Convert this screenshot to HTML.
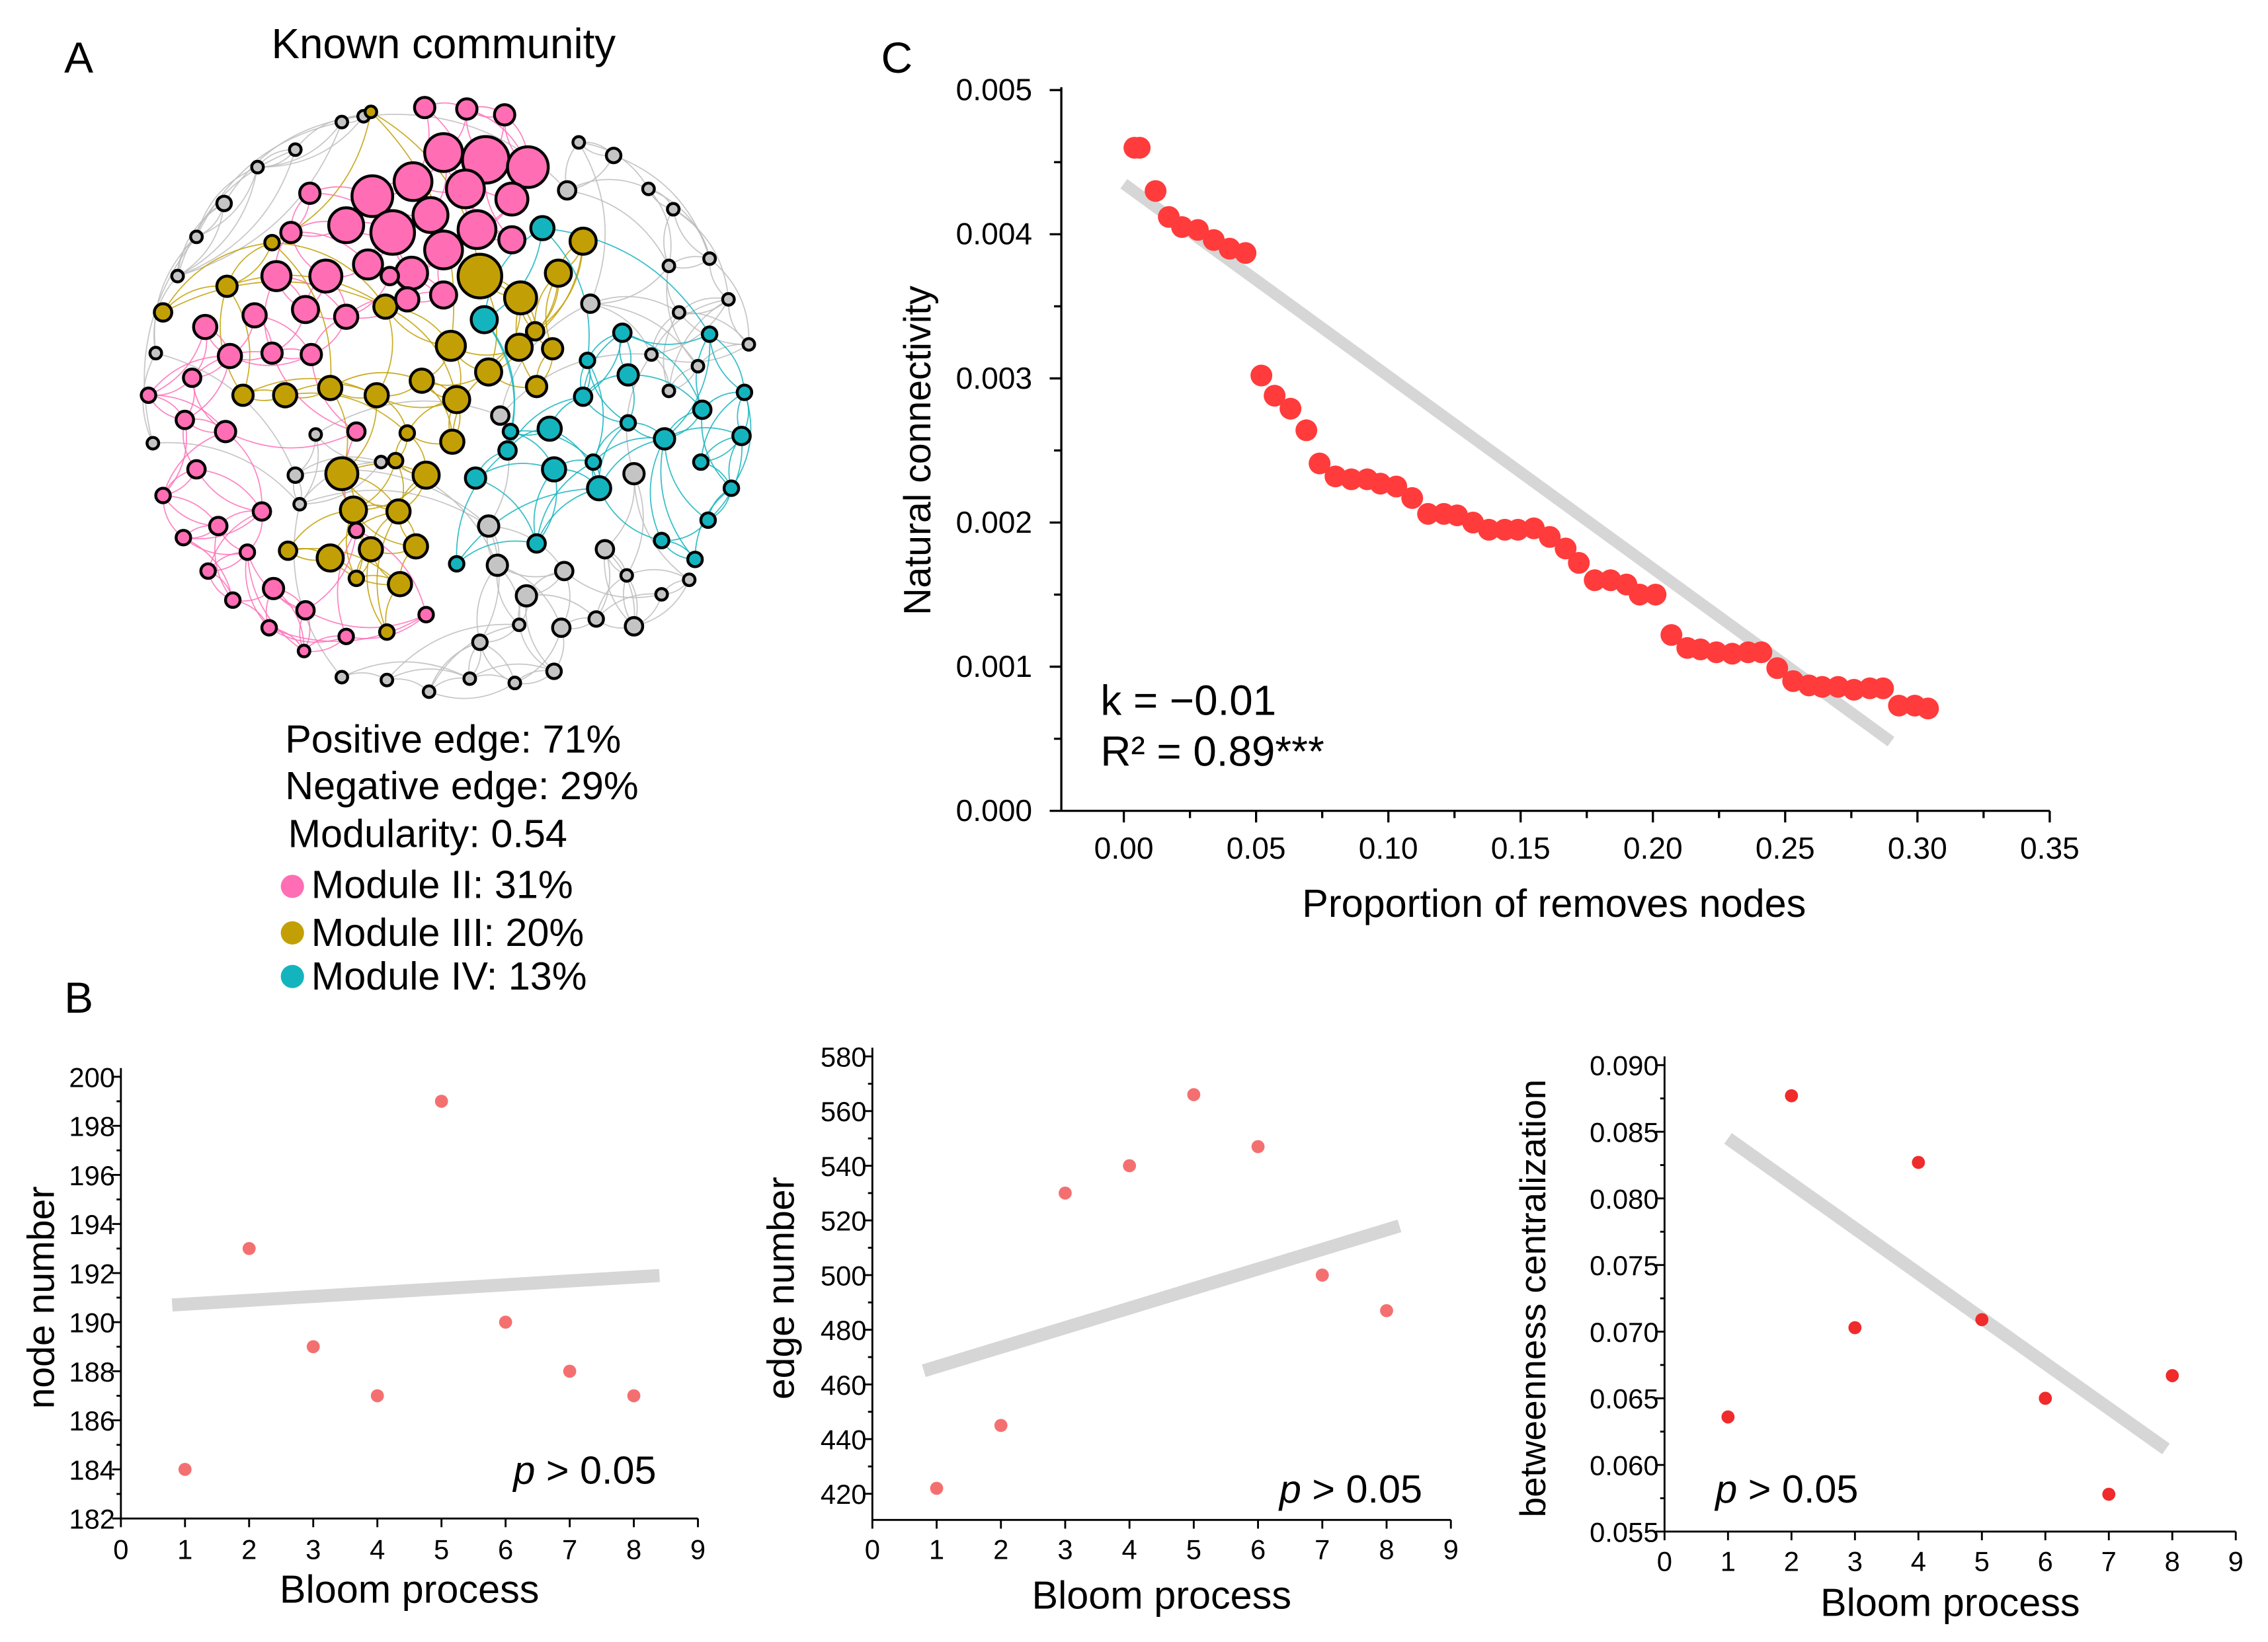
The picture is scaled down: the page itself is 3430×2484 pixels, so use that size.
<!DOCTYPE html>
<html><head><meta charset="utf-8"><style>
html,body{margin:0;padding:0;background:#fff}
svg{display:block;font-family:"Liberation Sans",Arial,sans-serif}
</style></head><body>
<svg id="fig" xmlns="http://www.w3.org/2000/svg" width="3430" height="2484" viewBox="0 0 1560 1130">
<rect width="1560" height="1130" fill="#fff"/>
<g id="net"></g>
<text x="44" y="50" font-size="30">A</text>
<text x="305" y="40" font-size="29" text-anchor="middle">Known community</text>
<text x="196" y="518" font-size="27">Positive edge: 71%</text>
<text x="196" y="550" font-size="27">Negative edge: 29%</text>
<text x="198" y="583" font-size="27">Modularity: 0.54</text>
<g>
<circle cx="201" cy="610" r="8" fill="#ff6eb4"/><text x="214" y="618" font-size="27">Module II: 31%</text>
<circle cx="201" cy="642" r="8" fill="#c2a005"/><text x="214" y="651" font-size="27">Module III: 20%</text>
<circle cx="201" cy="672" r="8" fill="#14b4be"/><text x="214" y="681" font-size="27">Module IV: 13%</text>
</g>
<text x="44" y="697" font-size="30">B</text>
<text x="606" y="50" font-size="30">C</text>
<g id="pc"></g>
<g id="b1"></g>
<g id="b2"></g>
<g id="b3"></g>
</svg>
<script>
const NS="http://www.w3.org/2000/svg";
// Panel C data
const cX=[0.004,0.006,0.012,0.017,0.022,0.028,0.034,0.040,0.046,0.052,0.057,0.063,0.069,0.074,0.080,0.086,0.092,0.097,0.103,0.109,0.115,0.121,0.126,0.132,0.138,0.144,0.149,0.155,0.161,0.167,0.172,0.178,0.184,0.190,0.195,0.201,0.207,0.213,0.218,0.224,0.230,0.236,0.241,0.247,0.253,0.259,0.264,0.270,0.276,0.282,0.287,0.293,0.299,0.304];
const cY=[4.6,4.6,4.3,4.12,4.05,4.03,3.96,3.9,3.87,3.02,2.88,2.79,2.64,2.41,2.32,2.3,2.3,2.27,2.25,2.17,2.06,2.06,2.05,2.0,1.95,1.95,1.95,1.96,1.9,1.82,1.72,1.6,1.6,1.57,1.5,1.5,1.22,1.13,1.12,1.1,1.09,1.1,1.1,0.99,0.9,0.87,0.86,0.86,0.84,0.85,0.85,0.73,0.73,0.71];
const cFit=[[0.0,4.35],[0.29,0.48]];
const cXTicks=["0.00","0.05","0.10","0.15","0.20","0.25","0.30","0.35"];
const cYTicks=["0.000","0.001","0.002","0.003","0.004","0.005"];
// Panel B data
const bloom=[1,2,3,4,5,6,7,8];
const nodeNum=[184,193,189,187,199,190,188,187];
const edgeNum=[422,445,530,540,566,547,500,487];
const betw=[0.0636,0.0877,0.0703,0.0827,0.0709,0.0650,0.0578,0.0667];
const nodeFit=[[0.8,190.7],[8.4,191.9]];
const edgeFit=[[0.8,465],[8.2,518]];
const betwFit=[[1,0.0845],[7.9,0.0612]];
const bXTicks=["0","1","2","3","4","5","6","7","8","9"];
const nodeTicks=["182","184","186","188","190","192","194","196","198","200"];
const edgeTicks=["420","440","460","480","500","520","540","560","580"];
const betwTicks=["0.055","0.060","0.065","0.070","0.075","0.080","0.085","0.090"];

function mk(p,tag,a,txt){const e=document.createElementNS(NS,tag);for(const k in a)e.setAttribute(k,a[k]);if(txt!==undefined)e.textContent=txt;p.appendChild(e);return e;}

// Panel C
(function(){
 const g=document.getElementById('pc');
 const X=v=>773+v*1820, Y=v=>558-v*99.2;
 let e=mk(g,'line',{x1:730,y1:558,x2:1410,y2:558,stroke:'#000','stroke-width':1.5});
 
 
 e=mk(g,'line',{x1:730,y1:558,x2:730,y2:60,stroke:'#000','stroke-width':1.5});
 
 
 cXTicks.forEach((t,i)=>{const v=+t;mk(g,'line',{x1:X(v),y1:558,x2:X(v),y2:566,stroke:'#000','stroke-width':1.5});
  if(i<7)mk(g,'line',{x1:X(v+0.025),y1:558,x2:X(v+0.025),y2:563,stroke:'#000','stroke-width':1.5});
  e=mk(g,'text',{x:X(v),y:591,'font-size':21,'text-anchor':'middle'},t);
  
  });
 cYTicks.forEach((t,i)=>{const v=+t*1000;mk(g,'line',{x1:722,y1:Y(v),x2:730,y2:Y(v),stroke:'#000','stroke-width':1.5});
  if(i<5)mk(g,'line',{x1:725,y1:Y(v+0.5),x2:730,y2:Y(v+0.5),stroke:'#000','stroke-width':1.5});
  e=mk(g,'text',{x:710,y:Y(v)+7,'font-size':21,'text-anchor':'end'},t);
  
  });
 e=mk(g,'line',{x1:X(cFit[0][0]),y1:Y(cFit[0][1]),x2:X(cFit[1][0]),y2:Y(cFit[1][1]),stroke:'#d6d6d6','stroke-width':8});
 
 
 cX.forEach((x,i)=>{e=mk(g,'circle',{cx:X(x),cy:Y(cY[i]),r:7.5,fill:'#ff3b3b'});
  
  });
 e=mk(g,'text',{x:640,y:310,'font-size':26,'text-anchor':'middle',transform:'rotate(-90 640 310)'},'Natural connectivity');
 
 
 e=mk(g,'text',{x:1069,y:631,'font-size':27,'text-anchor':'middle'},'Proportion of removes nodes');
 
 
 e=mk(g,'text',{x:757,y:492,'font-size':29},'k = \u22120.01');
 
 
 e=mk(g,'text',{x:757,y:527,'font-size':29},'R\u00b2 = 0.89***');
 
 
})();

// Panel B
function bChart(id,x0,x1,ybot,ytop,ax,ticks,vals,fit,ytitle,ytx,xlabY,titleY,color,pX,pY){
 const g=document.getElementById(id);
 const t0=+ticks[0],tn=+ticks[ticks.length-1];
 const X=v=>x0+v*(x1-x0)/9;
 const Y=v=>ybot-(v-t0)/(tn-t0)*(ybot-ytop);
 let e=mk(g,'line',{x1:x0,y1:ax,x2:x1,y2:ax,stroke:'#000','stroke-width':1.3});
 
 
 e=mk(g,'line',{x1:x0,y1:ax,x2:x0,y2:ytop-6,stroke:'#000','stroke-width':1.3});
 
 
 bXTicks.forEach(t=>{const v=+t;mk(g,'line',{x1:X(v),y1:ax,x2:X(v),y2:ax+6,stroke:'#000','stroke-width':1.3});
  e=mk(g,'text',{x:X(v),y:xlabY,'font-size':19,'text-anchor':'middle'},t);
  
  });
 const step=(+ticks[1]-t0);
 ticks.forEach((t,i)=>{const v=+t;mk(g,'line',{x1:x0-6,y1:Y(v),x2:x0,y2:Y(v),stroke:'#000','stroke-width':1.3});
  if(i<ticks.length-1)mk(g,'line',{x1:x0-3,y1:Y(v+step/2),x2:x0,y2:Y(v+step/2),stroke:'#000','stroke-width':1.3});
  e=mk(g,'text',{x:x0-4,y:Y(v)+7,'font-size':19,'text-anchor':'end'},t);
  
  });
 e=mk(g,'line',{x1:X(fit[0][0]),y1:Y(fit[0][1]),x2:X(fit[1][0]),y2:Y(fit[1][1]),stroke:'#d6d6d6','stroke-width':9});
 
 
 bloom.forEach((b,i)=>{e=mk(g,'circle',{cx:X(b),cy:Y(vals[i]),r:4.5,fill:color});
  
  });
 const cy=(ax+ytop)/2;
 e=mk(g,'text',{x:ytx,y:cy,'font-size':ytitle.length>15?25:26,'text-anchor':'middle',transform:`rotate(-90 ${ytx} ${cy})`},ytitle);
 
 
 e=mk(g,'text',{x:(x0+x1)/2,y:titleY,'font-size':27,'text-anchor':'middle'},'Bloom process');
 
 
 e=mk(g,'text',{x:pX,y:pY,'font-size':27},'');
 mk(e,'tspan',{'font-style':'italic'},'p');mk(e,'tspan',{},' > 0.05');
 
 
}
bChart('b1',83,480,1045,741,1045,nodeTicks,nodeNum,nodeFit,'node number',37,1073,1103,'#f47070',353,1021);
bChart('b2',600,998,1028,727,1046,edgeTicks,edgeNum,edgeFit,'edge number',546,1073,1107,'#f47070',880,1034);
bChart('b3',1145,1538,1054,733,1054,betwTicks,betw,betwFit,'betweenness centralization',1063,1081,1112,'#ef2b2b',1180,1034);

// Network
const pink=[[334,110,16],[363,115,14],[305,105,13],[284,125,13],[320,130,13],[256,135,14],[296,148,12],[270,160,15],[238,155,12],[328,158,13],[352,137,11],[305,172,13],[283,188,11],[253,182,10],[224,190,11],[190,190,10],[210,213,9],[238,218,8],[175,217,8],[141,225,8],[158,245,8],[187,243,7],[214,244,7],[132,260,6],[102,272,5],[155,297,7],[127,289,6],[135,323,6],[180,352,6],[213,133,7],[200,160,7],[292,74,7],[321,75,7],[347,79,7],[280,206,8],[305,203,9],[112,341,5],[150,362,6],[170,380,5],[143,393,5],[126,370,5],[188,405,7],[160,413,5],[185,432,5],[210,420,6],[238,438,5],[209,448,4],[245,365,5],[293,423,5],[245,297,6],[268,190,6],[352,165,9]];
const gold=[[330,190,15],[358,205,11],[384,188,9],[401,166,9],[310,238,10],[336,256,9],[357,239,9],[265,211,8],[290,262,8],[314,275,9],[227,267,8],[196,272,8],[167,272,7],[259,272,8],[235,326,11],[293,327,9],[243,351,9],[274,352,8],[311,304,8],[227,384,9],[255,378,8],[286,376,8],[275,402,8],[380,240,7],[369,266,7],[112,215,6],[156,197,7],[198,379,6],[266,435,5],[255,77,4],[272,317,5],[280,298,5],[245,398,5],[187,167,5],[368,228,6]];
const teal=[[373,157,8],[333,220,9],[378,295,8],[381,323,8],[412,336,8],[401,273,6],[432,258,7],[457,302,7],[483,282,6],[510,300,6],[512,270,5],[428,229,6],[488,230,5],[404,248,5],[349,310,6],[327,329,7],[369,374,6],[314,388,5],[482,318,5],[503,336,5],[487,358,5],[455,372,5],[478,385,5],[432,291,5],[408,318,5],[351,297,5]];
const grey=[[390,131,6],[422,107,5],[406,209,6],[344,286,6],[436,326,7],[336,362,7],[342,389,7],[362,410,7],[388,393,6],[416,378,6],[386,432,6],[330,442,5],[436,431,6],[410,426,5],[398,98,4],[446,130,4],[463,144,4],[488,178,4],[460,183,4],[501,206,4],[467,215,4],[515,237,4],[460,269,4],[448,244,4],[357,430,4],[381,462,5],[354,470,4],[323,467,4],[295,476,4],[266,468,4],[235,466,4],[154,140,5],[135,163,4],[122,190,4],[107,243,4],[105,305,4],[203,103,4],[177,115,4],[235,84,4],[206,347,4],[203,327,5],[217,299,4],[455,409,4],[431,396,4],[474,399,4],[480,252,4],[262,318,4],[250,80,4]];
(function(){
 const g=document.getElementById('net');
 const eg=mk(g,'g',{fill:'none','stroke-width':0.8});
 const groups=[[grey,'#bdbdbd'],[gold,'#c2a005'],[teal,'#14b4be'],[pink,'#ff70b8']];
 groups.forEach(([arr,col])=>{
  arr.forEach((n,i)=>{
   const d=arr.map((m,j)=>[j,Math.hypot(m[0]-n[0],m[1]-n[1])]).filter(a=>a[0]!==i).sort((a,b)=>a[1]-b[1]);
   [d[0],d[2],d[5]].forEach(dd=>{if(!dd)return;const m=arr[dd[0]];
    const mx=(n[0]+m[0])/2+(m[1]-n[1])*0.25,my=(n[1]+m[1])/2-(m[0]-n[0])*0.25;
    mk(eg,'path',{d:`M${n[0]},${n[1]}Q${mx},${my} ${m[0]},${m[1]}`,stroke:col,'stroke-opacity':0.85});});
  });
 });
 const ng=mk(g,'g',{stroke:'#000','stroke-width':2});
 [[grey,'#c4c4c4'],[teal,'#14b4be'],[gold,'#c2a005'],[pink,'#ff6eb4']].forEach(([arr,col])=>{
  arr.forEach(n=>{const c=mk(ng,'circle',{cx:n[0],cy:n[1],r:n[2],fill:col});
   
   });
 });
})();
</script>
</body></html>
